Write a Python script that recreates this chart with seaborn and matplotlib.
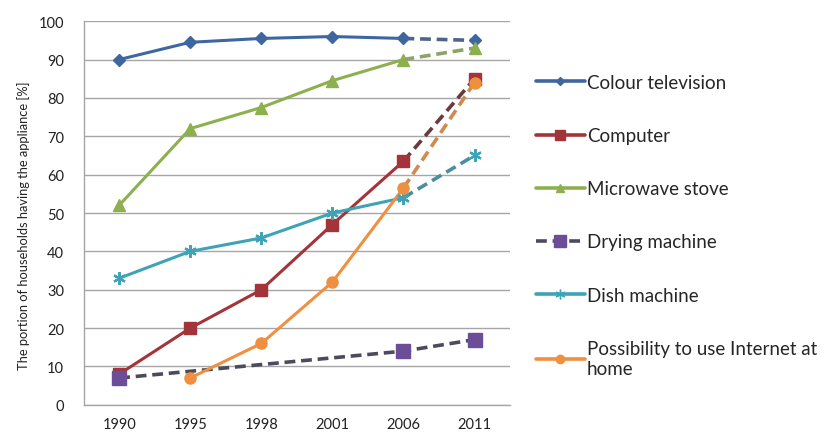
import numpy as np
import pandas as pd
import matplotlib
matplotlib.use("Agg")
import matplotlib.pyplot as plt
from matplotlib.lines import Line2D
import seaborn as sns

years = ["1990", "1995", "1998", "2001", "2006", "2011"]

colour_tv = [90, 94.5, 95.5, 96, 95.5, 95]
computer = [8, 20, 30, 47, 63.5, 85]
microwave = [52, 72, 77.5, 84.5, 90, 93]
drying = [7, np.nan, np.nan, np.nan, 14, 17]
dish = [33, 40, 43.5, 50, 54, 65]
internet = [np.nan, 7, 16, 32, 56.5, 84]

series_names = ["Colour television", "Computer", "Microwave stove",
                "Drying machine", "Dish machine",
                "Possibility to use Internet at\nhome"]
series_values = [colour_tv, computer, microwave, drying, dish, internet]

colors = ["#3F679F", "#A3343A", "#8DB04E", "#6B4E97", "#3FA3B8", "#EE9040"]
dashed_colors = ["#4E6587", "#6A3A40", "#8FA26A", "#4B4B5E", "#4C8E9E", "#D08A50"]
markers = ["D", "s", "^", "s", (6, 2, 0), "o"]
msizes = [6, 9, 8, 10, 9, 8]

sns.set_theme(style="white")
plt.rcParams["font.family"] = ["Lato", "DejaVu Sans"]

fig = plt.figure(figsize=(8.28, 4.35), dpi=100)
ax = fig.add_axes([0.101, 0.067, 0.515, 0.882])

rows = []
for name, vals in zip(series_names, series_values):
    for i, (yr, v) in enumerate(zip(years, vals)):
        rows.append({"series": name, "pos": i, "year": yr, "value": v})
df = pd.DataFrame(rows)

dash = (0, (3, 1.6))
for k, name in enumerate(series_names):
    d = df[(df["series"] == name)].dropna(subset=["value"])
    c = colors[k]
    mk = markers[k]
    ms = msizes[k]
    if name == "Drying machine":
        # whole series is dashed; gaps are bridged
        sns.lineplot(data=d, x="pos", y="value", ax=ax, color=dashed_colors[k],
                     lw=2.6, linestyle=dash, zorder=3, legend=False)
        ax.plot(d["pos"], d["value"], ls="none", marker=mk, ms=ms, color=c,
                mec=c, zorder=4)
        continue
    solid = d[d["pos"] <= 4]
    proj = d[d["pos"] >= 4]
    sns.lineplot(data=proj, x="pos", y="value", ax=ax, color=dashed_colors[k],
                 lw=2.6, linestyle=dash, zorder=3, legend=False)
    sns.lineplot(data=solid, x="pos", y="value", ax=ax, color=c, lw=2.2,
                 zorder=3, legend=False)
    mew = 1.6 if k == 4 else 1
    ax.plot(d["pos"], d["value"], ls="none", marker=mk, ms=ms, color=c,
            mec=c, mew=mew, zorder=4)

ax.set_xlim(-0.5, 5.5)
ax.set_ylim(0, 100)
ax.set_xticks(range(len(years)))
ax.set_xticklabels(years)
ax.set_yticks(range(0, 101, 10))
ax.tick_params(axis="both", labelsize=10.5, colors="#222222", length=0)
ax.tick_params(axis="y", pad=14)
ax.tick_params(axis="x", pad=9)
ax.yaxis.grid(True, color="#A6A6A6", lw=1)
ax.xaxis.grid(False)
for s in ["top", "right"]:
    ax.spines[s].set_visible(False)
for s in ["left", "bottom"]:
    ax.spines[s].set_color("#A6A6A6")
    ax.spines[s].set_linewidth(1)
ax.set_xlabel("")
ax.set_ylabel("The portion of households having the appliance [%]",
              fontsize=9.3, color="#222222", labelpad=12)
ax.yaxis.set_label_coords(-0.125, 0.47)

handles = []
for k, name in enumerate(series_names):
    ls = dash if name == "Drying machine" else "-"
    lc = dashed_colors[k] if name == "Drying machine" else colors[k]
    handles.append(Line2D([0], [0], color=lc, lw=2.6, ls=ls, marker=markers[k],
                          ms=msizes[k] - 2, mfc=colors[k], mec=colors[k]))
fig.legend(handles, series_names, loc="upper left",
           bbox_to_anchor=(0.638, 0.845), frameon=False, fontsize=13.5,
           handlelength=2.6, handletextpad=0.12, labelspacing=1.93,
           borderaxespad=0)

fig.savefig("out.png", dpi=100)
